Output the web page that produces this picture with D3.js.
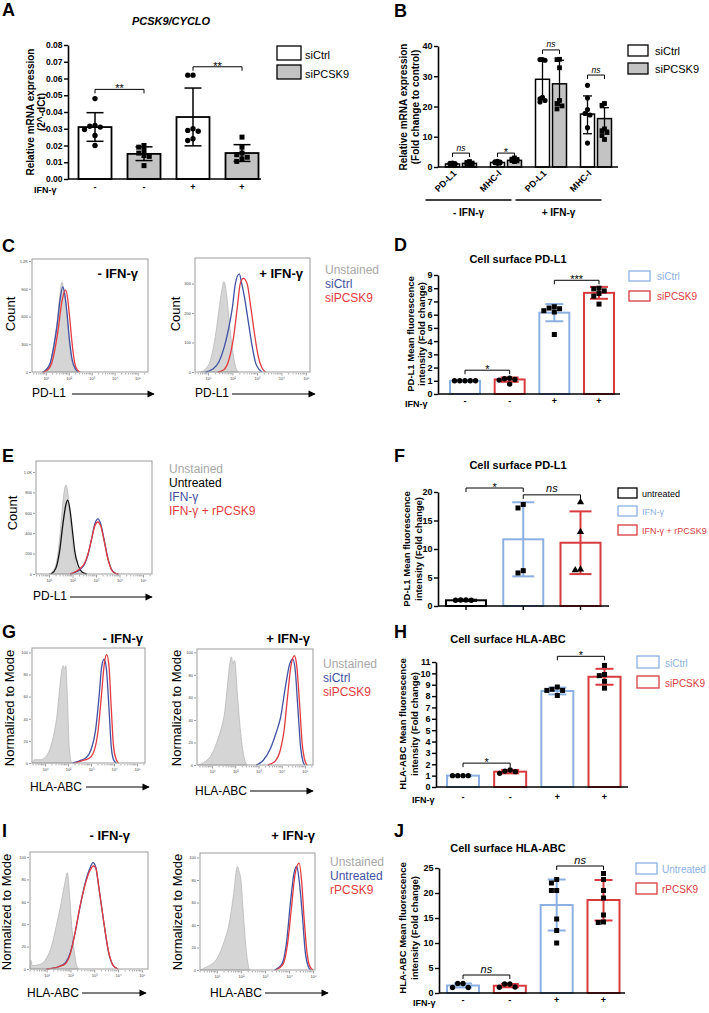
<!DOCTYPE html>
<html>
<head>
<meta charset="utf-8">
<script src="https://cdn.jsdelivr.net/npm/d3@7"></script>
<style>
  body { margin: 0; background: #fff; }
</style>
</head>
<body>
<script>
// ---------- data ----------

// A: PCSK9/CYCLO mRNA
const aCats = ['siCtrl -', 'siPCSK9 -', 'siCtrl +', 'siPCSK9 +'];
const aIfn = ['-', '-', '+', '+'];
const aMean = [0.031, 0.015, 0.037, 0.0155];
const aErr = [[0.0225, 0.0396], [0.011, 0.0192], [0.0198, 0.0543], [0.0105, 0.0205]];
const aPts = [
  [0.048, 0.032, 0.0315, 0.031, 0.0295, 0.026, 0.020],
  [0.020, 0.019, 0.017, 0.0155, 0.014, 0.0135, 0.008],
  [0.062, 0.062, 0.030, 0.029, 0.0285, 0.024, 0.023],
  [0.025, 0.019, 0.0155, 0.0145, 0.013, 0.012, 0.0105]
];
const aTicks = [0, 0.01, 0.02, 0.03, 0.04, 0.05, 0.06, 0.07, 0.08];
const aSig = [['siCtrl -', 'siPCSK9 -', 0.0535, '**'], ['siCtrl +', 'siPCSK9 +', 0.067, '**']];

// B: PD-L1 / MHC-I mRNA, fold change
const bCats = ['PD-L1 -', 'MHC-I -', 'PD-L1 +', 'MHC-I +'];
const bLabels = ['PD-L1', 'MHC-I', 'PD-L1', 'MHC-I'];
const bCtrlMean = [1.0, 1.5, 29.0, 17.5];
const bKdMean = [1.2, 2.2, 27.5, 16.0];
const bCtrlErr = [[0.8, 1.2], [1.1, 1.9], [22.2, 35.5], [11.0, 23.5]];
const bKdErr = [[0.9, 1.5], [1.6, 2.8], [20.3, 35.3], [12.2, 19.6]];
const bCtrlPts = [
  [1.3, 1.2, 1.0, 0.9, 0.8, 0.8, 1.1],
  [1.9, 1.7, 1.5, 1.4, 1.2, 1.3, 1.6],
  [35.5, 35.5, 35.3, 23.0, 22.0, 21.5, 22.5],
  [27.0, 22.8, 19.0, 17.7, 17.2, 13.0, 7.9]
];
const bKdPts = [
  [1.8, 1.5, 1.2, 1.0, 0.9, 1.1, 1.3],
  [3.0, 2.6, 2.3, 2.0, 1.8, 2.2, 2.5],
  [35.6, 35.5, 32.8, 22.0, 21.0, 19.2, 20.2],
  [21.0, 20.4, 12.6, 12.0, 11.4, 10.4, 9.1]
];
const bTicks = [0, 10, 20, 30, 40];
const bSig = [4.6, 4.6, 38.7, 30.4];
const bSigLabel = ['ns', '*', 'ns', 'ns'];

// D: cell surface PD-L1, siRNA
const dCats = ['siCtrl -', 'siPCSK9 -', 'siCtrl +', 'siPCSK9 +'];
const dIfn = ['-', '-', '+', '+'];
const dMean = [1.0, 1.1, 6.15, 7.65];
const dErr = [[0.96, 1.04], [0.92, 1.25], [5.5, 6.8], [7.2, 8.1]];
const dPts = [
  [1.0, 1.0, 1.0, 1.0, 1.0],
  [1.2, 1.15, 1.1, 1.05, 0.75],
  [6.6, 6.5, 6.45, 6.3, 6.2, 4.5],
  [8.0, 7.95, 7.8, 7.6, 7.4, 6.8]
];
const dTicks = [0, 1, 2, 3, 4, 5, 6, 7, 8, 9];
const dSig = [['siCtrl -', 'siPCSK9 -', 1.8, '*'], ['siCtrl +', 'siPCSK9 +', 8.6, '***']];

// F: cell surface PD-L1, rPCSK9
const fCats = ['untreated', 'IFN-γ', 'IFN-γ + rPCSK9'];
const fMean = [1.0, 11.7, 11.1];
const fErr = [[0.9, 1.1], [5.2, 18.2], [5.6, 16.6]];
const fPts = [
  [1.05, 1.0, 1.0, 1.05],
  [17.8, 17.2, 6.2, 5.8],
  [18.2, 13.0, 6.4, 6.3]
];
const fTicks = [0, 5, 10, 15, 20];
const fSig = [['untreated', 'IFN-γ', 20.7, '*'], ['IFN-γ', 'IFN-γ + rPCSK9', 19.5, 'ns']];

// H: cell surface HLA-ABC, siRNA
const hCats = ['siCtrl -', 'siPCSK9 -', 'siCtrl +', 'siPCSK9 +'];
const hIfn = ['-', '-', '+', '+'];
const hMean = [1.0, 1.35, 8.45, 9.7];
const hErr = [[0.97, 1.03], [1.2, 1.5], [8.15, 8.75], [9.0, 10.4]];
const hPts = [
  [1.0, 1.0, 1.0, 1.0],
  [1.5, 1.4, 1.35, 1.2],
  [8.8, 8.6, 8.5, 8.5, 8.05],
  [10.7, 9.9, 9.8, 9.3, 8.7]
];
const hTicks = [0, 1, 2, 3, 4, 5, 6, 7, 8, 9, 10, 11];
const hSig = [['siCtrl -', 'siPCSK9 -', 2.1, '*'], ['siCtrl +', 'siPCSK9 +', 11.5, '*']];

// J: cell surface HLA-ABC, rPCSK9
const jCats = ['Untreated -', 'rPCSK9 -', 'Untreated +', 'rPCSK9 +'];
const jIfn = ['-', '-', '+', '+'];
const jMean = [1.5, 1.45, 17.6, 18.6];
const jErr = [[1.1, 1.9], [1.15, 1.8], [12.5, 22.7], [14.5, 22.6]];
const jPts = [
  [1.9, 1.9, 1.1, 1.1],
  [1.8, 1.8, 1.2, 1.15],
  [22.7, 22.0, 20.5, 20.5, 14.8, 12.5, 10.0],
  [23.9, 22.7, 20.5, 19.0, 15.6, 14.2, 14.1]
];
const jTicks = [0, 5, 10, 15, 20, 25];
const jSig = [['Untreated -', 'rPCSK9 -', 3.6, 'ns'], ['Untreated +', 'rPCSK9 +', 25.4, 'ns']];

// flow histograms: [log10 fluorescence, count]
const cUnst1 = [[0.85,0],[1.0,25],[1.2,110],[1.35,300],[1.5,560],[1.6,800],[1.7,970],[1.78,900],[1.88,720],[2.0,380],[2.1,160],[2.25,40],[2.4,0]];
const cCtrl1 = [[0.85,0],[1.0,20],[1.2,100],[1.35,280],[1.5,520],[1.62,780],[1.74,920],[1.82,850],[1.92,650],[2.03,350],[2.15,130],[2.3,30],[2.42,0]];
const cKd1 = [[0.9,0],[1.05,15],[1.25,90],[1.4,250],[1.55,480],[1.7,760],[1.87,886],[1.95,800],[2.05,560],[2.15,300],[2.25,110],[2.38,20],[2.5,0]];
const cUnst2 = [[0.7,0],[0.9,10],[1.1,40],[1.3,120],[1.45,210],[1.57,280],[1.65,307],[1.75,270],[1.85,190],[1.95,110],[2.05,50],[2.15,12],[2.25,0]];
const cCtrl2 = [[0.9,0],[1.2,10],[1.45,35],[1.65,80],[1.85,150],[2.0,220],[2.12,300],[2.28,333],[2.38,300],[2.5,250],[2.65,170],[2.8,90],[2.95,30],[3.1,8],[3.2,0]];
const cKd2 = [[1.4,0],[1.65,8],[1.85,40],[2.05,120],[2.2,220],[2.32,300],[2.45,318],[2.6,300],[2.75,220],[2.9,130],[3.05,55],[3.2,15],[3.35,0]];

const eUnst = [[1.0,0],[1.2,40],[1.35,150],[1.5,450],[1.62,760],[1.72,873],[1.8,800],[1.9,550],[2.0,300],[2.1,140],[2.25,40],[2.4,0]];
const eUntr = [[1.1,0],[1.3,60],[1.45,220],[1.6,500],[1.72,680],[1.8,725],[1.9,620],[2.0,420],[2.1,220],[2.25,80],[2.4,20],[2.6,0]];
const eIfn = [[1.9,0],[2.1,15],[2.3,40],[2.5,90],[2.65,180],[2.8,330],[2.95,490],[3.08,540],[3.2,490],[3.35,330],[3.5,160],[3.65,50],[3.8,10],[3.95,0]];
const eRp = [[1.9,0],[2.1,20],[2.3,50],[2.5,100],[2.65,190],[2.8,330],[2.95,470],[3.08,510],[3.2,470],[3.35,320],[3.5,150],[3.65,45],[3.8,8],[3.95,0]];

const gUnst1 = [[0.45,0],[0.55,3],[0.8,3],[1.0,5],[1.2,12],[1.4,28],[1.5,40],[1.6,60],[1.7,80],[1.78,88],[1.85,85],[1.9,88],[1.97,60],[2.05,15],[2.15,0]];
const gCtrl1 = [[2.2,0],[2.5,2],[2.8,5],[3.0,12],[3.2,30],[3.35,60],[3.47,88],[3.57,94],[3.67,85],[3.78,50],[3.88,15],[3.98,3],[4.1,0]];
const gKd1 = [[2.3,0],[2.6,2],[2.9,4],[3.1,9],[3.3,28],[3.45,60],[3.58,90],[3.68,98],[3.78,88],[3.88,50],[3.98,15],[4.1,3],[4.2,0]];
const gUnst2 = [[0.4,0],[0.7,3],[1.0,10],[1.2,20],[1.4,33],[1.55,48],[1.65,68],[1.78,92],[1.83,96],[1.9,90],[1.97,93],[2.1,60],[2.25,25],[2.4,5],[2.5,0]];
const gCtrl2 = [[2.9,0],[3.2,4],[3.5,14],[3.75,28],[3.95,42],[4.15,68],[4.35,90],[4.48,94],[4.58,85],[4.7,50],[4.82,15],[4.92,3],[5.0,0]];
const gKd2 = [[3.4,0],[3.7,3],[3.95,14],[4.1,30],[4.25,60],[4.4,88],[4.55,97],[4.65,88],[4.77,55],[4.88,20],[5.0,4],[5.1,0]];

const iUnst1 = [[0.3,0],[0.33,8],[0.4,3],[0.7,4],[1.0,10],[1.2,20],[1.4,38],[1.6,58],[1.75,75],[1.87,86],[1.95,70],[2.05,40],[2.15,18],[2.25,4],[2.35,0]];
const iUntr1 = [[1.0,0],[1.5,2],[1.8,6],[2.0,15],[2.2,33],[2.4,55],[2.6,75],[2.8,89],[2.95,95],[3.05,92],[3.2,72],[3.4,42],[3.6,15],[3.8,3],[4.0,0]];
const iRp1 = [[1.0,0],[1.5,2],[1.8,5],[2.0,14],[2.2,33],[2.4,56],[2.6,74],[2.8,87],[2.97,92],[3.07,90],[3.2,72],[3.4,42],[3.6,16],[3.8,3],[4.0,0]];
const iUnst2 = [[0.3,0],[0.6,3],[1.0,10],[1.3,25],[1.5,40],[1.7,68],[1.85,92],[1.92,88],[2.0,80],[2.1,50],[2.25,12],[2.35,0]];
const iUntr2 = [[3.4,0],[3.7,5],[3.9,25],[4.05,58],[4.2,85],[4.32,92],[4.42,80],[4.55,50],[4.68,15],[4.8,3],[4.9,0]];
const iRp2 = [[3.45,0],[3.75,5],[3.95,25],[4.1,55],[4.25,85],[4.42,95],[4.52,80],[4.63,45],[4.75,15],[4.87,3],[5.0,0]];

const countTicksC1 = [0, 300, 600, 900, 1200];
const countLabelsC1 = ['0', '300', '600', '900', '1.2K'];
const countTicksC2 = [0, 100, 200, 300];
const countTicksE = [0, 200, 400, 600, 800, 1000];
const countLabelsE = ['0', '200', '400', '600', '800', '1.0K'];
const modeTicks = [0, 20, 40, 60, 80, 100];
const decades = [1, 2, 3, 4, 5];

// ---------- drawing ----------
const FONT = '"Liberation Sans", Arial, Helvetica, sans-serif';
const LBLUE = '#8cb0e2', LRED = '#d83b3f';
const HBLUE = '#3f51a3', HRED = '#e23b3f', HGREY = '#a8a8a8';

const svg = d3.select('body').append('svg')
  .attr('width', 709).attr('height', 1013)
  .attr('font-family', FONT);

svg.append('defs').append('marker')
  .attr('id', 'arr').attr('viewBox', '0 0 10 10')
  .attr('refX', 9).attr('refY', 5)
  .attr('markerWidth', 7).attr('markerHeight', 6).attr('orient', 'auto')
  .append('path').attr('d', 'M0,0 L10,5 L0,10 z');

function label(x, y, s, o = {}) {
  const t = svg.append('text').attr('x', x).attr('y', y).text(s)
    .attr('font-size', o.size || 10)
    .attr('fill', o.fill || '#000')
    .attr('text-anchor', o.anchor || 'start');
  if (o.bold) t.attr('font-weight', 'bold');
  if (o.italic) t.attr('font-style', 'italic');
  if (o.rot) t.attr('transform', `rotate(${o.rot},${x},${y})`);
  return t;
}

function yLabel(lines, xs, cy, size, bold) {
  lines.forEach((s, i) => label(xs[i], cy, s, {size, bold, anchor: 'middle', rot: -90}));
}

const shapeType = {circle: d3.symbolCircle, square: d3.symbolSquare, triangle: d3.symbolTriangle};

// small dodge so points with close values sit side by side, kept inside the bar
function dots(g, vals, cx, y, shape, size, maxOff) {
  const placed = [];
  const step = size * 1.05;
  const offs = [0, -1, 1, -2, 2, -3, 3, -0.5, 0.5, -1.5, 1.5, -2.5, 2.5]
    .map(k => k * step).filter(o => Math.abs(o) <= maxOff);
  vals.slice().sort((a, b) => b - a).forEach(v => {
    const py = y(v);
    let best = offs[0], bestD = -1;
    for (const o of offs) {
      const d = d3.min(placed, p => Math.hypot(p[0] - (cx + o), p[1] - py)) ?? 99;
      if (d >= size * 0.95) { best = o; bestD = d; break; }
      if (d > bestD) { best = o; bestD = d; }
    }
    const px = cx + best;
    placed.push([px, py]);
    g.append('path')
      .attr('d', d3.symbol().type(shapeType[shape]).size(size * size * (shape === 'square' ? 1 : 0.9))())
      .attr('transform', `translate(${px},${py})`)
      .attr('fill', '#000');
  });
}

function errBar(g, cx, y, e, cap, color, w) {
  g.append('line').attr('x1', cx).attr('x2', cx).attr('y1', y(e[0])).attr('y2', y(e[1]))
    .attr('stroke', color).attr('stroke-width', w);
  e.forEach(v => g.append('line')
    .attr('x1', cx - cap / 2).attr('x2', cx + cap / 2).attr('y1', y(v)).attr('y2', y(v))
    .attr('stroke', color).attr('stroke-width', w));
}

function bracket(g, x1, x2, yy, s, size) {
  g.append('path').attr('d', `M${x1},${yy + 4}V${yy}H${x2}V${yy + 4}`)
    .attr('fill', 'none').attr('stroke', '#000').attr('stroke-width', 1);
  const ns = s === 'ns';
  g.append('text').attr('x', (x1 + x2) / 2).attr('y', ns ? yy - 2.5 : yy + 3)
    .attr('text-anchor', 'middle').attr('font-size', ns ? size : 11)
    .attr('font-style', ns ? 'italic' : null).text(s);
}

function yAxis(g, y, x0, ticks, fmt, fs) {
  const ax = g.append('g').attr('transform', `translate(${x0},0)`)
    .call(d3.axisLeft(y).tickValues(ticks).tickFormat(fmt).tickSize(4).tickSizeOuter(0).tickPadding(1.5));
  ax.attr('font-family', FONT);
  ax.select('.domain').attr('stroke-width', 1.6);
  ax.selectAll('.tick line').attr('stroke-width', 1.4);
  ax.selectAll('.tick text').attr('font-size', fs).attr('font-weight', 'bold');
}

function barPanel(p) {
  const g = svg.append('g');
  const y = d3.scaleLinear().domain(p.yDom).range(p.yRange);
  const x = d3.scalePoint().domain(p.cats).range(p.xRange);
  p.cats.forEach((c, i) => {
    g.append('rect')
      .attr('x', x(c) - p.bw / 2).attr('y', y(p.mean[i]))
      .attr('width', p.bw).attr('height', y(0) - y(p.mean[i]))
      .attr('fill', p.fill[i]).attr('stroke', p.stroke[i]).attr('stroke-width', p.sw);
  });
  p.cats.forEach((c, i) => errBar(g, x(c), y, p.err[i], p.cap, p.errColor[i], p.ew));
  p.cats.forEach((c, i) => dots(g, p.pts[i], x(c), y, p.shape[i], p.ms, p.bw / 2 - 3));
  yAxis(g, y, p.axisX, p.ticks, p.fmt, p.tfs);
  g.append('line').attr('x1', p.axisX).attr('x2', p.axisEnd).attr('y1', y(0)).attr('y2', y(0))
    .attr('stroke', '#000').attr('stroke-width', 1.6);
  if (p.xTick) p.cats.forEach(c => g.append('line')
    .attr('x1', x(c)).attr('x2', x(c)).attr('y1', y(0)).attr('y2', y(0) + 4)
    .attr('stroke', '#000').attr('stroke-width', 1.4));
  if (p.ifn) {
    p.cats.forEach((c, i) => label(x(c), p.ifnY, p.ifn[i], {size: 9, bold: true, anchor: 'middle'}));
    label(p.ifnX, p.ifnY + 3, 'IFN-γ', {size: 9, bold: true});
  }
  p.sig.forEach(s => bracket(g, x(s[0]), x(s[1]), y(s[2]), s[3], p.nsSize));
  return {x, y};
}

function boxLegend(x, ys, w, h, items, tx, size) {
  items.forEach((it, i) => {
    svg.append('rect').attr('x', x).attr('y', ys[i]).attr('width', w).attr('height', h)
      .attr('fill', it.fill).attr('stroke', it.stroke).attr('stroke-width', it.sw || 1.3);
    label(tx, ys[i] + h - 1.5, it.name, {size, fill: it.color || '#000'});
  });
}

function histPanel(p) {
  const g = svg.append('g');
  const [x0, y0, x1, y1] = p.box;
  const x = d3.scaleLinear().domain(p.xDom).range([x0, x1]);
  const y = d3.scaleLinear().domain(p.yDom).range([y1, y0]);
  const area = d3.area().x(d => x(d[0])).y0(y(0)).y1(d => y(d[1])).curve(d3.curveMonotoneX);
  const line = d3.line().x(d => x(d[0])).y(d => y(d[1])).curve(d3.curveMonotoneX);
  g.append('path').datum(p.fillCurve).attr('d', area)
    .attr('fill', '#d5d5d5').attr('stroke', '#b8b8b8').attr('stroke-width', 0.8);
  p.lines.forEach(l => g.append('path').datum(l[0]).attr('d', line)
    .attr('fill', 'none').attr('stroke', l[1]).attr('stroke-width', 1.3));
  g.append('rect').attr('x', x0).attr('y', y0).attr('width', x1 - x0).attr('height', y1 - y0)
    .attr('fill', 'none').attr('stroke', '#9b9b9b').attr('stroke-width', 1);
  const ya = g.append('g').attr('transform', `translate(${x0 - 1},0)`)
    .call(d3.axisLeft(y).tickValues(p.yTicks).tickFormat((d, i) => p.yLabels[i])
      .tickSize(2).tickSizeOuter(0).tickPadding(1));
  ya.select('.domain').remove();
  const xa = g.append('g').attr('transform', `translate(0,${y1 + 1})`)
    .call(d3.axisBottom(x).tickValues(decades).tickFormat(d => '10' + '⁰¹²³⁴⁵'[d])
      .tickSize(2.5).tickSizeOuter(0).tickPadding(1.5));
  xa.select('.domain').remove();
  [ya, xa].forEach(a => {
    a.attr('font-family', FONT);
    a.selectAll('.tick line').attr('stroke', '#555').attr('stroke-width', 0.6);
    a.selectAll('.tick text').attr('font-size', 4).attr('fill', '#444');
  });
  // minor log ticks
  d3.range(0, 6).forEach(dec => d3.range(2, 10).forEach(k => {
    const v = dec + Math.log10(k);
    if (v > p.xDom[0] && v < p.xDom[1]) {
      g.append('line').attr('x1', x(v)).attr('x2', x(v)).attr('y1', y1 + 1).attr('y2', y1 + 2.4)
        .attr('stroke', '#555').attr('stroke-width', 0.5);
    }
  }));
}

function axisArrow(tx, ty, s, ax1, ax2, ay) {
  label(tx, ty, s, {size: 12});
  svg.append('line').attr('x1', ax1).attr('x2', ax2).attr('y1', ay).attr('y2', ay)
    .attr('stroke', '#000').attr('stroke-width', 1.2).attr('marker-end', 'url(#arr)');
}

// ---------- panel letters ----------
[['A', 2, 16], ['B', 394, 17], ['C', 2, 252], ['D', 394, 251], ['E', 2, 462], ['F', 394, 462],
 ['G', 2, 638], ['H', 394, 638], ['I', 2, 837], ['J', 394, 837]]
  .forEach(d => label(d[1], d[2], d[0], {size: 18, bold: true}));

// ---------- A ----------
label(171, 25, 'PCSK9/CYCLO', {size: 11, bold: true, italic: true, anchor: 'middle'});
barPanel({
  cats: aCats, mean: aMean, err: aErr, pts: aPts, ifn: aIfn,
  yDom: [0, 0.08], yRange: [179, 45], xRange: [95, 242], bw: 33,
  fill: ['#fff', '#c3c3c3', '#fff', '#c3c3c3'], stroke: Array(4).fill('#000'), sw: 1.8,
  errColor: Array(4).fill('#000'), ew: 1.5, cap: 17,
  shape: ['circle', 'square', 'circle', 'square'], ms: 5,
  axisX: 68, axisEnd: 261, ticks: aTicks, fmt: d3.format('.2f'), tfs: 8.5,
  ifnY: 190, ifnX: 34, sig: aSig, nsSize: 9
});
yLabel(['Relative mRNA expression', '(2^-dCt)'], [34, 44.5], 112, 10, true);
boxLegend(277, [46, 65], 24, 14,
  [{name: 'siCtrl', fill: '#fff', stroke: '#000'}, {name: 'siPCSK9', fill: '#c3c3c3', stroke: '#000'}], 305, 11);

// ---------- B ----------
{
  const g = svg.append('g');
  const y = d3.scaleLinear().domain([0, 40]).range([167, 46]);
  const x = d3.scalePoint().domain(bCats).range([461, 596]);
  const sub = d3.scalePoint().domain(['siCtrl', 'siPCSK9']).range([-8.5, 8.5]);
  const series = [
    ['siCtrl', bCtrlMean, bCtrlErr, bCtrlPts, '#fff', 'circle'],
    ['siPCSK9', bKdMean, bKdErr, bKdPts, '#c3c3c3', 'square']
  ];
  series.forEach(s => bCats.forEach((c, i) => {
    const cx = x(c) + sub(s[0]);
    g.append('rect').attr('x', cx - 7).attr('y', y(s[1][i])).attr('width', 14)
      .attr('height', y(0) - y(s[1][i])).attr('fill', s[4]).attr('stroke', '#000').attr('stroke-width', 1.5);
  }));
  series.forEach(s => bCats.forEach((c, i) => errBar(g, x(c) + sub(s[0]), y, s[2][i], 9, '#000', 1.3)));
  series.forEach(s => bCats.forEach((c, i) => dots(g, s[3][i], x(c) + sub(s[0]), y, s[5], 4.8, 5)));
  yAxis(g, y, 438, bTicks, d3.format('d'), 9);
  g.append('line').attr('x1', 438).attr('x2', 618).attr('y1', y(0)).attr('y2', y(0))
    .attr('stroke', '#000').attr('stroke-width', 1.6);
  bCats.forEach((c, i) => {
    label(x(c) - 4, 174, bLabels[i], {size: 9, bold: true, anchor: 'end', rot: -45});
    bracket(g, x(c) + sub('siCtrl'), x(c) + sub('siPCSK9'), y(bSig[i]), bSigLabel[i], 8.5);
  });
  [[0, 1, '- IFN-γ'], [2, 3, '+ IFN-γ']].forEach(d => {
    const mid = (x(bCats[d[0]]) + x(bCats[d[1]])) / 2 - 15;
    g.append('line').attr('x1', mid - 43).attr('x2', mid + 43).attr('y1', 200).attr('y2', 200)
      .attr('stroke', '#000').attr('stroke-width', 1.3);
    label(mid, 216, d[2], {size: 10, bold: true, anchor: 'middle'});
  });
}
yLabel(['Relative mRNA expression', '(Fold change to control)'], [407, 419], 107, 10, true);
boxLegend(628, [45, 63], 20, 11,
  [{name: 'siCtrl', fill: '#fff', stroke: '#000'}, {name: 'siPCSK9', fill: '#c3c3c3', stroke: '#000'}], 655, 11);

// ---------- C ----------
histPanel({box: [32, 259, 148, 372], xDom: [0.4, 5.45], yDom: [0, 1222],
  yTicks: countTicksC1, yLabels: countLabelsC1, fillCurve: cUnst1, lines: [[cCtrl1, HBLUE], [cKd1, HRED]]});
histPanel({box: [195, 258, 310, 372], xDom: [0.47, 5.17], yDom: [0, 387],
  yTicks: countTicksC2, yLabels: countTicksC2.map(String), fillCurve: cUnst2, lines: [[cCtrl2, HBLUE], [cKd2, HRED]]});
label(138, 278, '- IFN-γ', {size: 13, bold: true, anchor: 'end'});
label(303, 278, '+ IFN-γ', {size: 13, bold: true, anchor: 'end'});
yLabel(['Count'], [15], 314, 13);
yLabel(['Count'], [180], 314, 13);
axisArrow(32, 397, 'PD-L1', 72, 154, 394);
axisArrow(195, 397, 'PD-L1', 232, 315, 394);
[['Unstained', HGREY], ['siCtrl', HBLUE], ['siPCSK9', HRED]]
  .forEach((d, i) => label(325, 274 + i * 14, d[0], {size: 12, fill: d[1]}));

// ---------- D ----------
label(518, 263, 'Cell surface PD-L1', {size: 11, bold: true, anchor: 'middle'});
barPanel({
  cats: dCats, mean: dMean, err: dErr, pts: dPts, ifn: dIfn,
  yDom: [0, 9], yRange: [394, 275], xRange: [465, 599], bw: 30,
  fill: Array(4).fill('#fff'), stroke: [LBLUE, LRED, LBLUE, LRED], sw: 2,
  errColor: [LBLUE, LRED, LBLUE, LRED], ew: 2, cap: 18,
  shape: ['circle', 'circle', 'square', 'square'], ms: 5,
  axisX: 438, axisEnd: 620, ticks: dTicks, fmt: d3.format('d'), tfs: 9,
  ifnY: 404, ifnX: 405, sig: dSig, nsSize: 9
});
yLabel(['PD-L1 Mean fluorescence', 'intensity (Fold change)'], [414, 425], 334, 9.5, true);
boxLegend(629, [271, 291], 21, 10,
  [{name: 'siCtrl', fill: '#fff', stroke: LBLUE, color: LBLUE}, {name: 'siPCSK9', fill: '#fff', stroke: LRED, color: LRED}], 657, 10);

// ---------- E ----------
histPanel({box: [36, 461, 152, 574], xDom: [0.45, 5.38], yDom: [0, 1108],
  yTicks: countTicksE, yLabels: countLabelsE, fillCurve: eUnst, lines: [[eUntr, '#111'], [eIfn, HBLUE], [eRp, HRED]]});
yLabel(['Count'], [17], 513, 13);
axisArrow(33, 600, 'PD-L1', 70, 152, 597);
[['Unstained', HGREY], ['Untreated', '#000'], ['IFN-γ', HBLUE], ['IFN-γ + rPCSK9', HRED]]
  .forEach((d, i) => label(169, 473 + i * 14, d[0], {size: 12, fill: d[1]}));

// ---------- F ----------
label(518, 469, 'Cell surface PD-L1', {size: 11, bold: true, anchor: 'middle'});
barPanel({
  cats: fCats, mean: fMean, err: fErr, pts: fPts,
  yDom: [0, 20], yRange: [606, 492], xRange: [466, 580.5], bw: 40,
  fill: Array(3).fill('#fff'), stroke: ['#000', LBLUE, LRED], sw: 2,
  errColor: ['#000', LBLUE, LRED], ew: 2, cap: 22,
  shape: ['circle', 'square', 'triangle'], ms: 5,
  axisX: 438, axisEnd: 609, ticks: fTicks, fmt: d3.format('d'), tfs: 9, xTick: true,
  sig: fSig, nsSize: 11
});
yLabel(['PD-L1 Mean fluorescence', 'intensity (Fold change)'], [410, 422], 549, 9.5, true);
boxLegend(618, [488, 506, 525], 19, 10,
  [{name: 'untreated', fill: '#fff', stroke: '#000'},
   {name: 'IFN-γ', fill: '#fff', stroke: LBLUE, color: LBLUE},
   {name: 'IFN-γ + rPCSK9', fill: '#fff', stroke: LRED, color: LRED}], 642, 9);

// ---------- G ----------
histPanel({box: [32, 648, 145, 763], xDom: [0.43, 5.35], yDom: [0, 104],
  yTicks: modeTicks, yLabels: modeTicks.map(String), fillCurve: gUnst1, lines: [[gCtrl1, HBLUE], [gKd1, HRED]]});
histPanel({box: [197, 649, 313, 765], xDom: [0.35, 5.35], yDom: [0, 103],
  yTicks: modeTicks, yLabels: modeTicks.map(String), fillCurve: gUnst2, lines: [[gCtrl2, HBLUE], [gKd2, HRED]]});
label(143, 643, '- IFN-γ', {size: 13, bold: true, anchor: 'end'});
label(310, 643, '+ IFN-γ', {size: 13, bold: true, anchor: 'end'});
yLabel(['Normalized to Mode'], [14], 708, 13);
yLabel(['Normalized to Mode'], [181], 708, 13);
axisArrow(30, 791, 'HLA-ABC', 86, 149, 787);
axisArrow(195, 795, 'HLA-ABC', 250, 313, 791);
[['Unstained', HGREY], ['siCtrl', HBLUE], ['siPCSK9', HRED]]
  .forEach((d, i) => label(323, 668 + i * 14, d[0], {size: 12, fill: d[1]}));

// ---------- H ----------
label(508, 643, 'Cell surface HLA-ABC', {size: 11, bold: true, anchor: 'middle'});
barPanel({
  cats: hCats, mean: hMean, err: hErr, pts: hPts, ifn: hIfn,
  yDom: [0, 11], yRange: [787, 662], xRange: [463, 604.5], bw: 32,
  fill: Array(4).fill('#fff'), stroke: [LBLUE, LRED, LBLUE, LRED], sw: 2,
  errColor: [LBLUE, LRED, LBLUE, LRED], ew: 2, cap: 18,
  shape: ['circle', 'circle', 'square', 'square'], ms: 5,
  axisX: 436, axisEnd: 628, ticks: hTicks, fmt: d3.format('d'), tfs: 9,
  ifnY: 800, ifnX: 412, sig: hSig, nsSize: 9
});
yLabel(['HLA-ABC Mean fluorescence', 'intensity (Fold change)'], [406, 418], 724, 9.5, true);
boxLegend(637, [656, 676], 22, 12,
  [{name: 'siCtrl', fill: '#fff', stroke: LBLUE, color: LBLUE}, {name: 'siPCSK9', fill: '#fff', stroke: LRED, color: LRED}], 665, 10);

// ---------- I ----------
histPanel({box: [30, 852, 148, 969], xDom: [0.3, 5.26], yDom: [0, 104.5],
  yTicks: modeTicks, yLabels: modeTicks.map(String), fillCurve: iUnst1, lines: [[iUntr1, HBLUE], [iRp1, HRED]]});
histPanel({box: [200, 853, 315, 970], xDom: [0.3, 5.08], yDom: [0, 104],
  yTicks: modeTicks, yLabels: modeTicks.map(String), fillCurve: iUnst2, lines: [[iUntr2, HBLUE], [iRp2, HRED]]});
label(130, 840, '- IFN-γ', {size: 13, bold: true, anchor: 'end'});
label(315, 840, '+ IFN-γ', {size: 13, bold: true, anchor: 'end'});
yLabel(['Normalized to Mode'], [11], 912, 13);
yLabel(['Normalized to Mode'], [182], 912, 13);
axisArrow(27, 997, 'HLA-ABC', 82, 146, 993);
axisArrow(210, 997, 'HLA-ABC', 265, 328, 993);
[['Unstained', HGREY], ['Untreated', HBLUE], ['rPCSK9', HRED]]
  .forEach((d, i) => label(330, 866 + i * 14, d[0], {size: 12, fill: d[1]}));

// ---------- J ----------
label(508, 852, 'Cell surface HLA-ABC', {size: 11, bold: true, anchor: 'middle'});
barPanel({
  cats: jCats, mean: jMean, err: jErr, pts: jPts, ifn: jIfn,
  yDom: [0, 25], yRange: [993, 868], xRange: [463, 603.5], bw: 32,
  fill: Array(4).fill('#fff'), stroke: [LBLUE, LRED, LBLUE, LRED], sw: 2,
  errColor: [LBLUE, LRED, LBLUE, LRED], ew: 2, cap: 18,
  shape: ['circle', 'circle', 'square', 'square'], ms: 5,
  axisX: 439, axisEnd: 625, ticks: jTicks, fmt: d3.format('d'), tfs: 9,
  ifnY: 1003, ifnX: 413, sig: jSig, nsSize: 11
});
yLabel(['HLA-ABC Mean fluorescence', 'intensity (Fold change)'], [406, 418], 928, 9.5, true);
boxLegend(636, [863, 883], 21, 11,
  [{name: 'Untreated', fill: '#fff', stroke: LBLUE, color: LBLUE}, {name: 'rPCSK9', fill: '#fff', stroke: LRED, color: LRED}], 662, 10);
</script>
</body>
</html>
